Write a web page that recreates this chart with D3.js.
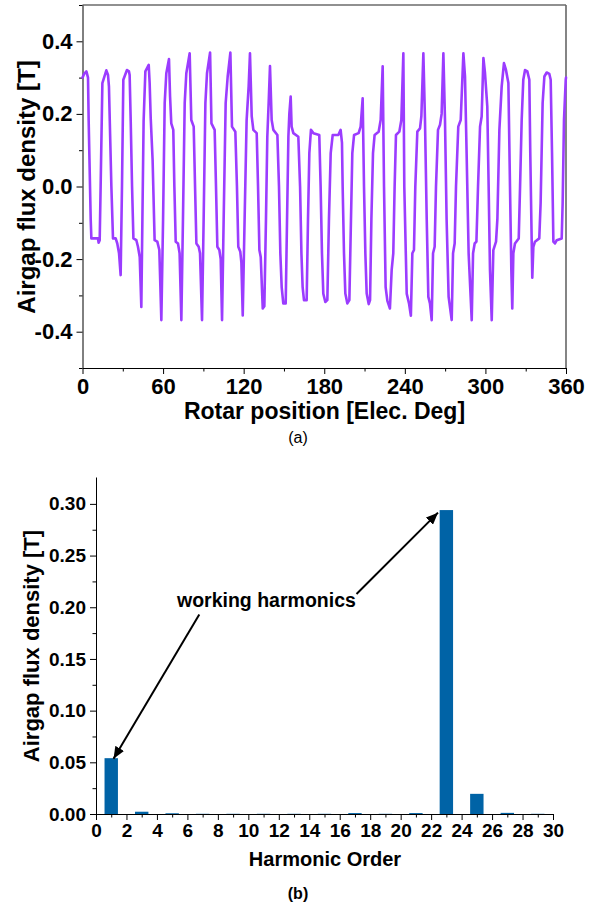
<!DOCTYPE html>
<html><head><meta charset="utf-8">
<script src="https://cdn.jsdelivr.net/npm/d3@7"></script>
<style>body{margin:0;background:#fff}svg{display:block}</style>
</head><body>
<svg id="chart" width="597" height="912"></svg>
<script>
// ---------- (a) airgap flux density waveform: [rotor position (elec. deg), flux density (T)] ----------
const waveform = [
 [0,0.300],[1.2,0.310],[2.9,0.317],[4.1,0.300],[4.6,0.180],[6.1,-0.090],[6.6,-0.143],
 [11.5,-0.143],[12.0,-0.155],[12.8,-0.148],[13.5,0.0],[14.8,0.285],
 [17.75,0.320],[19.0,0.307],[19.7,0.275],[21.5,0.0],[22.7,-0.143],
 [24.7,-0.143],[25.9,-0.157],[27.2,-0.184],[28.4,-0.244],[29.4,0.0],[30.4,0.294],
 [33.1,0.321],[34.6,0.317],[35.1,0.307],[35.9,0.180],[36.9,0.0],[37.9,-0.143],
 [40.1,-0.148],[41.3,-0.166],[42.6,-0.194],[43.8,-0.332],[44.6,-0.090],[45.5,0.180],[46.8,0.317],
 [49.3,0.335],[50.0,0.285],[50.8,0.188],[52.2,0.073],[53.7,-0.148],
 [55.7,-0.152],[57.2,-0.175],[58.7,-0.368],[60.0,-0.090],[61.2,0.230],[62.4,0.312],
 [64.4,0.351],[65.2,0.248],[66.1,0.174],[67.6,0.156],[68.4,0.0],[69.4,-0.152],
 [71.1,-0.157],[72.3,-0.184],[73.6,-0.368],[74.8,-0.090],[76.1,0.230],[77.3,0.312],
 [79.8,0.367],[81.0,0.183],[82.8,0.165],[83.8,0.0],[84.8,-0.157],
 [86.5,-0.166],[87.5,-0.184],[89.0,-0.368],[90.2,-0.090],[91.5,0.230],[92.7,0.312],
 [95.0,0.369],[96.0,0.174],[98.4,0.156],[99.4,0.0],[100.4,-0.166],
 [101.9,-0.175],[102.9,-0.200],[103.9,-0.368],[105.1,-0.090],[106.6,0.230],[108.1,0.303],
 [110.1,0.369],[111.3,0.165],[113.8,0.151],[115.0,0.0],[116.0,-0.166],
 [117.5,-0.180],[118.3,-0.210],[119.3,-0.355],[120.7,-0.090],[122.2,0.183],[123.7,0.275],
 [124.7,0.367],[126.0,0.193],[127.2,0.156],[129.7,0.147],[130.7,0.0],[131.7,-0.175],
 [132.7,-0.194],[134.2,-0.336],[135.4,-0.330],[136.6,-0.092],[137.6,0.137],[138.6,0.230],
 [139.6,0.332],[140.85,0.183],[142.1,0.156],[145.1,0.142],[146.3,0.0],[147.3,-0.184],
 [148.3,-0.277],[149.5,-0.322],[151.3,-0.322],[152.3,-0.090],[153.3,0.137],[154.0,0.200],
 [155.0,0.248],[155.7,0.165],[157.0,0.147],[160.7,0.137],[162.0,0.0],[163.0,-0.184],[163.9,-0.277],
 [164.9,-0.313],[166.9,-0.313],[167.9,-0.090],[168.9,0.092],[170.1,0.156],
 [171.9,0.147],[176.3,0.142],[177.3,0.0],[178.3,-0.184],[179.3,-0.295],
 [180.8,-0.318],[182.3,-0.313],[183.5,-0.090],[184.8,0.092],[186.3,0.142],
 [190.5,0.142],[192.2,0.156],[193.2,0.120],[193.7,0.0],[194.7,-0.184],[195.7,-0.295],
 [197.2,-0.322],[198.7,-0.313],[199.9,-0.090],[200.9,0.092],[202.2,0.142],
 [205.6,0.147],[207.1,0.165],[208.6,0.243],[209.6,0.0],[210.6,-0.184],[211.6,-0.295],
 [213.1,-0.324],[214.1,-0.313],[215.1,-0.090],[216.3,0.092],[217.5,0.142],
 [220.5,0.151],[222.0,0.183],[223.5,0.331],[224.5,0.0],[225.7,-0.277],
 [227.0,-0.315],[228.9,-0.336],[230.2,-0.230],[231.4,-0.184],[232.4,0.0],[233.4,0.142],
 [235.9,0.151],[237.4,0.183],[238.9,0.367],[239.6,0.0],[241.4,-0.295],[243.1,-0.322],[244.5,-0.356],
 [245.6,-0.184],[246.8,-0.175],[247.8,0.0],[249.3,0.151],[251.3,0.160],[252.3,0.193],
 [253.8,0.367],[255.0,0.183],[256.3,-0.090],[257.5,-0.304],[258.7,-0.322],[260.0,-0.368],
 [261.0,-0.184],[262.2,-0.166],[263.2,0.0],[264.7,0.156],[266.2,0.170],[267.4,0.200],
 [268.7,0.367],[269.9,0.183],[271.1,-0.090],[272.6,-0.304],[274.9,-0.368],
 [275.9,-0.184],[277.1,-0.157],[278.1,0.0],[279.8,0.165],[281.6,0.183],
 [283.6,0.367],[284.8,0.303],[286.0,0.092],[287.5,-0.184],[289.8,-0.368],
 [290.8,-0.184],[292.0,-0.157],[293.3,-0.152],[294.5,0.0],[296.0,0.165],[297.2,0.193],
 [298.5,0.354],[299.7,0.312],[301.4,0.220],[302.4,0.0],[303.4,-0.230],[304.7,-0.368],
 [305.9,-0.175],[307.9,-0.152],[308.9,-0.090],[310.4,0.156],[312.1,0.275],
 [313.8,0.340],[315.3,0.321],[317.1,0.285],[318.3,0.0],[319.3,-0.230],[320.0,-0.336],
 [320.8,-0.184],[322.0,-0.157],[324.8,-0.143],[325.8,0.0],[327.0,0.183],[328.2,0.294],
 [329.5,0.321],[331.2,0.317],[332.7,0.294],[333.4,0.092],[334.4,-0.138],[334.9,-0.251],
 [335.7,-0.166],[336.9,-0.152],[340.1,-0.143],[341.1,-0.046],[342.6,0.230],[343.9,0.303],
 [345.6,0.314],[347.6,0.310],[348.6,0.294],[349.6,0.092],[350.6,-0.152],[351.8,-0.157],[353.1,-0.148],
 [356.8,-0.143],[357.5,-0.046],[358.5,0.183],[359.8,0.294],[360,0.300]
];
const xTicksA = [0, 60, 120, 180, 240, 300, 360];
const xMinorA = [30, 90, 150, 210, 270, 330];
const yTicksA = [-0.4, -0.2, 0.0, 0.2, 0.4];
const yMinorA = [-0.5, -0.3, -0.1, 0.1, 0.3, 0.5];

// ---------- (b) harmonic spectrum ----------
const harmonicOrders = [1, 3, 5, 7, 9, 11, 13, 15, 17, 19, 21, 23, 25, 27, 29];
const harmonicAmps   = [0.054, 0.0022, 0.0007, 0.0002, 0.0002, 0.0002, 0.0002, 0.0002, 0.0009, 0.0002, 0.0009, 0.294, 0.0195, 0.0011, 0.0002];
const xTicksB = [0, 2, 4, 6, 8, 10, 12, 14, 16, 18, 20, 22, 24, 26, 28, 30];
const xMinorB = [1, 3, 5, 7, 9, 11, 13, 15, 17, 19, 21, 23, 25, 27, 29];
const yTicksB = [0.00, 0.05, 0.10, 0.15, 0.20, 0.25, 0.30];
const yMinorB = [0.025, 0.075, 0.125, 0.175, 0.225, 0.275];
const annotationText = "working harmonics";
// arrows in data coordinates: [from harmonic, from T, to harmonic, to T]
const annotationArrows = [[6.78, 0.193, 1.15, 0.0535], [17.1, 0.2128, 22.45, 0.2915]];

const FONT = '"Liberation Sans", Arial, Helvetica, sans-serif';
const svg = d3.select("#chart");

function styleAxis(g, size) {
  g.attr("font-family", FONT).attr("font-size", size).attr("font-weight", "bold");
  g.selectAll("text").attr("fill", "#000");
  g.selectAll("line").attr("stroke", "#000");
  g.select(".domain").attr("stroke", "#000");
}

// ===== Chart (a) =====
const xA = d3.scaleLinear().domain([0, 360]).range([82.5, 566]);
const yA = d3.scaleLinear().domain([-0.5, 0.5]).range([368, 5]);

svg.append("line").attr("x1", xA(0)).attr("x2", xA(360)).attr("y1", yA(0.5)).attr("y2", yA(0.5))
  .attr("stroke", "#222").attr("stroke-width", 1.2);
svg.append("line").attr("x1", xA(360)).attr("x2", xA(360)).attr("y1", yA(0.5)).attr("y2", yA(-0.5))
  .attr("stroke", "#666").attr("stroke-width", 1.6);

const gxA = svg.append("g").attr("transform", `translate(0,${yA(-0.5)})`)
  .call(d3.axisBottom(xA).tickValues(xTicksA).tickSize(6).tickSizeOuter(0).tickPadding(4).tickFormat(d => d));
styleAxis(gxA, 22);
const gxAm = svg.append("g").attr("transform", `translate(0,${yA(-0.5)})`)
  .call(d3.axisBottom(xA).tickValues(xMinorA).tickSize(3.5).tickSizeOuter(0).tickFormat(""));
styleAxis(gxAm, 10); gxAm.select(".domain").remove();

const gyA = svg.append("g").attr("transform", `translate(${xA(0)},0)`)
  .call(d3.axisLeft(yA).tickValues(yTicksA).tickSize(6).tickSizeOuter(0).tickPadding(4).tickFormat(d => d.toFixed(1)));
styleAxis(gyA, 22);
const gyAm = svg.append("g").attr("transform", `translate(${xA(0)},0)`)
  .call(d3.axisLeft(yA).tickValues(yMinorA).tickSize(3.5).tickSizeOuter(0).tickFormat(""));
styleAxis(gyAm, 10); gyAm.select(".domain").remove();

svg.append("path").datum(waveform)
  .attr("d", d3.line().x(d => xA(d[0])).y(d => yA(d[1])))
  .attr("fill", "none").attr("stroke", "#9b3cff").attr("stroke-width", 2.6)
  .attr("stroke-linejoin", "round").attr("stroke-linecap", "round");

svg.append("text").attr("x", 324.5).attr("y", 419).attr("text-anchor", "middle")
  .attr("font-family", FONT).attr("font-weight", "bold").attr("font-size", 23).text("Rotar position [Elec. Deg]");
svg.append("text").attr("transform", "translate(35,187) rotate(-90)").attr("text-anchor", "middle")
  .attr("font-family", FONT).attr("font-weight", "bold").attr("font-size", 24).text("Airgap flux density [T]");
svg.append("text").attr("x", 298).attr("y", 443).attr("text-anchor", "middle")
  .attr("font-family", FONT).attr("font-size", 16).text("(a)");

// ===== Chart (b) =====
const xB = d3.scaleLinear().domain([0, 30]).range([96, 553]);
const yB = d3.scaleLinear().domain([0, 0.326]).range([814, 477]);

const barHalf = 0.44;
svg.append("g").selectAll("rect").data(harmonicOrders.map((o, i) => ({o, a: harmonicAmps[i]})))
  .join("rect")
  .attr("x", d => xB(d.o - barHalf)).attr("width", d => xB(d.o + barHalf) - xB(d.o - barHalf))
  .attr("y", d => yB(d.a)).attr("height", d => yB(0) - yB(d.a))
  .attr("fill", "#0063a6");

const gxB = svg.append("g").attr("transform", `translate(0,${yB(0)})`)
  .call(d3.axisBottom(xB).tickValues(xTicksB).tickSize(6).tickSizeOuter(0).tickPadding(4).tickFormat(d => d));
styleAxis(gxB, 19);
const gxBm = svg.append("g").attr("transform", `translate(0,${yB(0)})`)
  .call(d3.axisBottom(xB).tickValues(xMinorB).tickSize(3.5).tickSizeOuter(0).tickFormat(""));
styleAxis(gxBm, 10); gxBm.select(".domain").remove();

const gyB = svg.append("g").attr("transform", `translate(${xB(0)},0)`)
  .call(d3.axisLeft(yB).tickValues(yTicksB).tickSize(6).tickSizeOuter(0).tickPadding(4).tickFormat(d => d.toFixed(2)));
styleAxis(gyB, 19);
const gyBm = svg.append("g").attr("transform", `translate(${xB(0)},0)`)
  .call(d3.axisLeft(yB).tickValues(yMinorB).tickSize(3.5).tickSizeOuter(0).tickFormat(""));
styleAxis(gyBm, 10); gyBm.select(".domain").remove();

svg.append("text").attr("x", 325).attr("y", 866).attr("text-anchor", "middle")
  .attr("font-family", FONT).attr("font-weight", "bold").attr("font-size", 20).text("Harmonic Order");
svg.append("text").attr("transform", "translate(39,646) rotate(-90)").attr("text-anchor", "middle")
  .attr("font-family", FONT).attr("font-weight", "bold").attr("font-size", 22).text("Airgap flux density [T]");
svg.append("text").attr("x", 298).attr("y", 899).attr("text-anchor", "middle")
  .attr("font-family", FONT).attr("font-weight", "bold").attr("font-size", 16).text("(b)");

// annotation
svg.append("defs").append("marker").attr("id", "ah")
  .attr("viewBox", "0 0 12 10").attr("refX", 12).attr("refY", 5)
  .attr("markerWidth", 12).attr("markerHeight", 10).attr("markerUnits", "userSpaceOnUse")
  .attr("orient", "auto")
  .append("path").attr("d", "M0,0 L12,5 L0,10 Z").attr("fill", "#000");
svg.append("text").attr("x", xB(5.32)).attr("y", yB(0.2002))
  .attr("font-family", FONT).attr("font-weight", "bold").attr("font-size", 19.5).text(annotationText);
svg.append("g").selectAll("line").data(annotationArrows).join("line")
  .attr("x1", d => xB(d[0])).attr("y1", d => yB(d[1]))
  .attr("x2", d => xB(d[2])).attr("y2", d => yB(d[3]))
  .attr("stroke", "#000").attr("stroke-width", 2).attr("marker-end", "url(#ah)");
</script>
</body></html>
